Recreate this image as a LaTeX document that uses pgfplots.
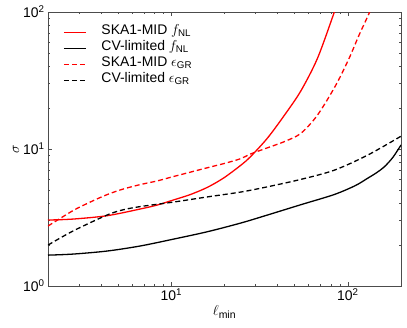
\documentclass[border=0pt]{standalone}
\usepackage{fontspec}
\setmainfont{Liberation Sans}
\usepackage{pgfplots}
\pgfplotsset{compat=1.18}
\newcommand{\tf}{\fontsize{14}{16}\selectfont}

\begin{document}
\begin{tikzpicture}[x=1bp,y=1bp]
\path[use as bounding box] (-48,-42) rectangle (359,286);
\begin{axis}[
  at={(0,0)}, anchor=south west,
  scale only axis, width=353bp, height=274bp,
  xmode=log, ymode=log,
  xmin=2, xmax=200, ymin=1, ymax=100,
  xtick={10,100}, xticklabels={{\tf 10\textsuperscript{1}},{\tf 10\textsuperscript{2}}},
  ytick={1,10,100}, yticklabels={{\tf 10\textsuperscript{0}},{\tf 10\textsuperscript{1}},{\tf 10\textsuperscript{2}}},
  minor xtick={2,3,4,5,6,7,8,9,20,30,40,50,60,70,80,90,200},
  minor ytick={2,3,4,5,6,7,8,9,20,30,40,50,60,70,80,90},
  tick align=inside, tick pos=both,
  major tick length=4bp, minor tick length=2bp,
  every tick/.style={black!70, line width=0.5pt},
  axis line style={black!70, line width=0.8pt},
  xticklabel style={yshift=1bp},
  xlabel={\fontsize{15}{17}\selectfont$\ell_{\rm min}$},
  ylabel={\fontsize{15}{17}\selectfont$\sigma$},
  xlabel style={yshift=2bp},
  ylabel style={yshift=-3bp},
  legend cell align=left,
  legend image code/.code={\draw[#1] (0bp,0bp) -- (22bp,0bp);},
  legend style={draw=none, fill=none, at={(0.0425,0.956)}, anchor=north west,
    inner sep=0pt, row sep=0pt, column sep=15bp,
    nodes={inner sep=0pt, text height=10.5bp, text depth=5.5bp}},
]
% SKA1-MID f_NL
\addplot[red, line width=1.3pt, smooth] coordinates {
  (2,3.03)(2.77,3.08)(4.33,3.26)(6.67,3.65)(8.32,3.9)(10.3,4.25)(12.8,4.65)
  (16,5.25)(19.8,6.15)(24.7,7.6)(28.1,8.8)(35,12)(43.5,17.5)(54.1,26.5)
  (67.3,46)(83.6,99)(90,130)
};
\addlegendentry{\tf SKA1-MID $f_{\rm NL}$}
% CV-limited f_NL
\addplot[black, line width=1.3pt, smooth] coordinates {
  (2,1.68)(2.77,1.71)(4.33,1.8)(6.67,1.96)(10.3,2.2)(16,2.49)(24.7,2.88)
  (35.1,3.3)(54.1,3.92)(83.6,4.65)(110,5.4)(129,6.1)(145,6.7)(160.7,7.4)
  (180,8.7)(200,10.7)
};
\addlegendentry{\tf CV-limited $f_{\rm NL}$}
% SKA1-MID eps_GR
\addplot[red, line width=1.3pt, dash pattern=on 5bp off 3bp, smooth] coordinates {
  (2,2.74)(2.77,3.55)(3.47,4.1)(4.33,4.65)(5.33,5.1)(6.67,5.5)(8.32,5.85)
  (10.3,6.3)(16,7.3)(20,7.85)(24.7,8.5)(28.1,9.2)(35,10.2)(43.5,11.3)
  (54.1,13.0)(67.3,17.7)(85.5,29.3)(101.6,45.9)(115.8,68)(132,98)(140,120)
};
\addlegendentry{\tf SKA1-MID $\epsilon_{\rm GR}$}
% CV-limited eps_GR
\addplot[black, line width=1.3pt, dash pattern=on 5bp off 3bp, smooth] coordinates {
  (2,1.99)(2.77,2.52)(4.33,3.3)(5.33,3.6)(6.67,3.8)(10.3,4.1)(16,4.47)
  (24.7,4.85)(35.1,5.3)(54.1,6.0)(83.6,7.0)(129,9.0)(200,12.4)
};
\addlegendentry{\tf CV-limited $\epsilon_{\rm GR}$}
\end{axis}
\end{tikzpicture}
\end{document}
